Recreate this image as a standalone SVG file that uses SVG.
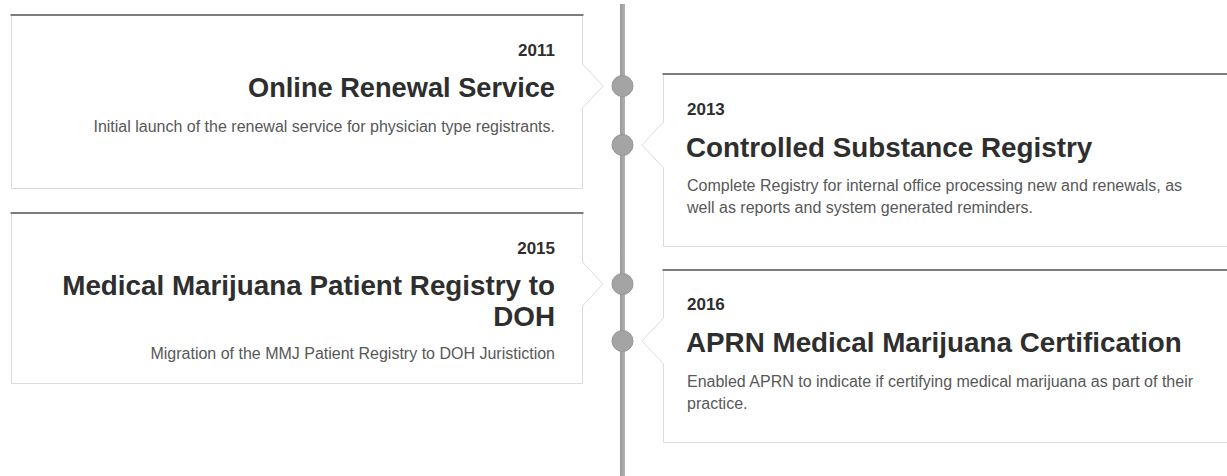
<svg xmlns="http://www.w3.org/2000/svg" width="1227" height="476" viewBox="0 0 1227 476">
  <defs>
    <linearGradient id="lineGrad" x1="0" y1="0" x2="1" y2="0">
      <stop offset="0" stop-color="#9a9a9a"/>
      <stop offset="1" stop-color="#b2b2b2"/>
    </linearGradient>
    <style>
      .box { fill: #ffffff; stroke: #dcdcdc; stroke-width: 1; }
      .topbar { stroke: #7c7c7c; stroke-width: 2; }
      .dot { fill: #a4a4a4; stroke: #959595; stroke-width: 1; }
      .year { font-family: "Liberation Sans", Arial, sans-serif; font-weight: bold; font-size: 17px; fill: #2e2e2e; }
      .title { font-family: "Liberation Sans", Arial, sans-serif; font-weight: bold; font-size: 27.8px; fill: #2e2e2e; }
      .desc { font-family: "Liberation Sans", Arial, sans-serif; font-size: 16px; fill: #585858; }
      .r { text-anchor: end; }
    </style>
  </defs>
  <rect width="1227" height="476" fill="#ffffff"/>

  <g id="timeline">
    <rect x="620" y="4" width="5" height="472" fill="url(#lineGrad)"/>
  </g>

  <g id="connectors">
    <circle class="dot" cx="622.5" cy="86" r="10.5"/>
    <circle class="dot" cx="622.5" cy="145" r="10.5"/>
    <circle class="dot" cx="622.5" cy="284" r="10.5"/>
    <circle class="dot" cx="622.5" cy="341" r="10.5"/>
  </g>

  <g id="event-2011">
    <path class="box" d="M11.5,15.5 H582.5 V64 L603,86 L582.5,108 V188.5 H11.5 Z"/>
    <line class="topbar" x1="10.5" y1="15" x2="583.5" y2="15"/>
    <text class="year r" x="555" y="56">2011</text>
    <text class="title r" x="555" y="97" textLength="307" lengthAdjust="spacingAndGlyphs">Online Renewal Service</text>
    <text class="desc r" x="555" y="132">Initial launch of the renewal service for physician type registrants.</text>
  </g>

  <g id="event-2015">
    <path class="box" d="M11.5,213.5 H582.5 V262 L603,284 L582.5,306 V383.5 H11.5 Z"/>
    <line class="topbar" x1="10.5" y1="213" x2="583.5" y2="213"/>
    <text class="year r" x="555" y="254">2015</text>
    <text class="title r" x="555" y="295">Medical Marijuana Patient Registry to</text>
    <text class="title r" x="555" y="326">DOH</text>
    <text class="desc r" x="555" y="359">Migration of the MMJ Patient Registry to DOH Juristiction</text>
  </g>

  <g id="event-2013">
    <path class="box" d="M663.5,74.5 H1240 V246.5 H663.5 V168 L642,145 L663.5,122 Z"/>
    <line class="topbar" x1="662.5" y1="74" x2="1240" y2="74"/>
    <text class="year" x="687" y="115">2013</text>
    <text class="title" x="686" y="157">Controlled Substance Registry</text>
    <text class="desc" x="687" y="191">Complete Registry for internal office processing new and renewals, as</text>
    <text class="desc" x="687" y="213">well as reports and system generated reminders.</text>
  </g>

  <g id="event-2016">
    <path class="box" d="M663.5,270.5 H1240 V442.5 H663.5 V364 L642,341 L663.5,318 Z"/>
    <line class="topbar" x1="662.5" y1="270" x2="1240" y2="270"/>
    <text class="year" x="687" y="310">2016</text>
    <text class="title" x="686" y="352">APRN Medical Marijuana Certification</text>
    <text class="desc" x="687" y="387">Enabled APRN to indicate if certifying medical marijuana as part of their</text>
    <text class="desc" x="687" y="409">practice.</text>
  </g>
</svg>
